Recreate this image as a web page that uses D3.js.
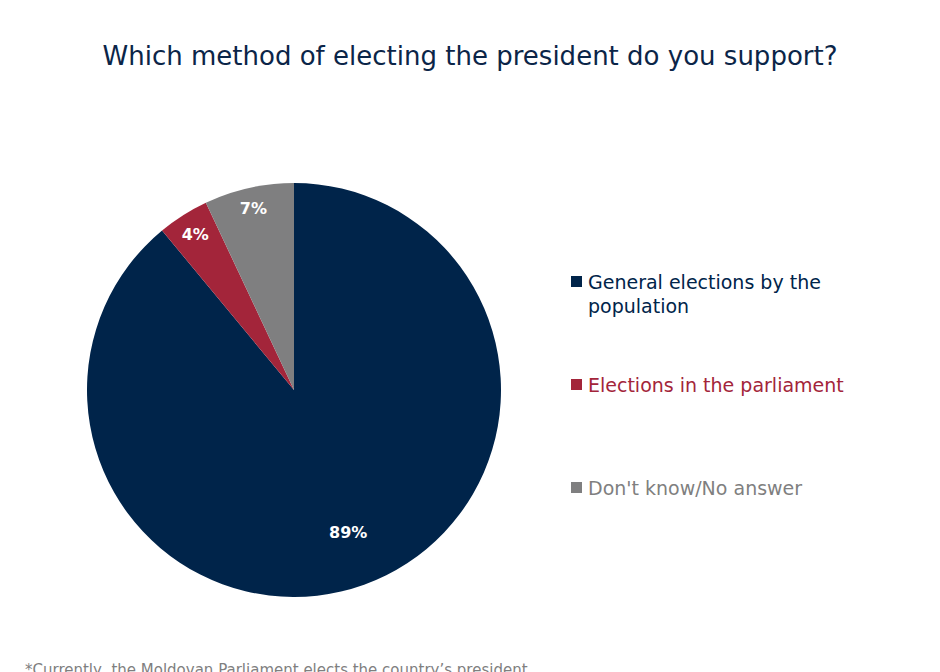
<!DOCTYPE html>
<html>
<head>
<meta charset="utf-8">
<script src="https://cdn.jsdelivr.net/npm/d3@7"></script>
<style>
  body { margin: 0; background: #fff; }
  text { font-family: "DejaVu Sans", sans-serif; }
</style>
</head>
<body>
<svg id="chart" width="940" height="672"></svg>
<script>
// data
const categories = ['General elections by the population', 'Elections in the parliament', "Don't know/No answer"];
const legendLines = [['General elections by the', 'population'], ['Elections in the parliament'], ["Don't know/No answer"]];
const values = [89, 4, 7];
const colors = ['#00244a', '#a3253a', '#7f7f80'];

const svg = d3.select('#chart');
const cx = 294, cy = 390, r = 207;

svg.append('text')
   .attr('x', 470)
   .attr('y', 65)
   .attr('text-anchor', 'middle')
   .attr('font-size', '26px')
   .attr('fill', '#0b2548')
   .attr('textLength', 735)
   .attr('lengthAdjust', 'spacingAndGlyphs')
   .text('Which method of electing the president do you support?');

const pie = d3.pie().sort(null).value(d => d);
const arc = d3.arc().innerRadius(0).outerRadius(r);
const arcs = pie(values);

const g = svg.append('g').attr('transform', `translate(${cx},${cy})`);
g.selectAll('path')
 .data(arcs)
 .enter()
 .append('path')
   .attr('d', arc)
   .attr('fill', (d, i) => colors[i]);

// label radius differs per slice in the original
const labelR = [0.73, 0.89, 0.9];
g.selectAll('text.lbl')
 .data(arcs)
 .enter()
 .append('text')
   .attr('class', 'lbl')
   .attr('transform', (d, i) => {
     const c = d3.arc().innerRadius(r * labelR[i]).outerRadius(r * labelR[i]).centroid(d);
     return `translate(${c[0] + (i === 0 ? 3 : 0)},${c[1]})`;
   })
   .attr('text-anchor', 'middle')
   .attr('dy', '0.35em')
   .attr('font-size', '16px')
   .attr('font-weight', 'bold')
   .attr('fill', '#fff')
   .text(d => d.data + '%');

// legend
const legendY = [289, 392, 495];
const lg = svg.append('g');
categories.forEach((c, i) => {
  lg.append('rect')
    .attr('x', 571)
    .attr('y', legendY[i] - 13)
    .attr('width', 11)
    .attr('height', 11)
    .attr('fill', colors[i]);
  const t = lg.append('text')
    .attr('x', 588)
    .attr('y', legendY[i])
    .attr('font-size', '19px')
    .attr('fill', colors[i]);
  legendLines[i].forEach((ln, j) => {
    t.append('tspan').attr('x', 588).attr('dy', j ? 24 : 0).text(ln);
  });
});

svg.append('text')
   .attr('x', 25)
   .attr('y', 675)
   .attr('font-size', '15px')
   .attr('fill', '#7f7f7f')
   .text('*Currently, the Moldovan Parliament elects the country\u2019s president');
</script>
</body>
</html>
